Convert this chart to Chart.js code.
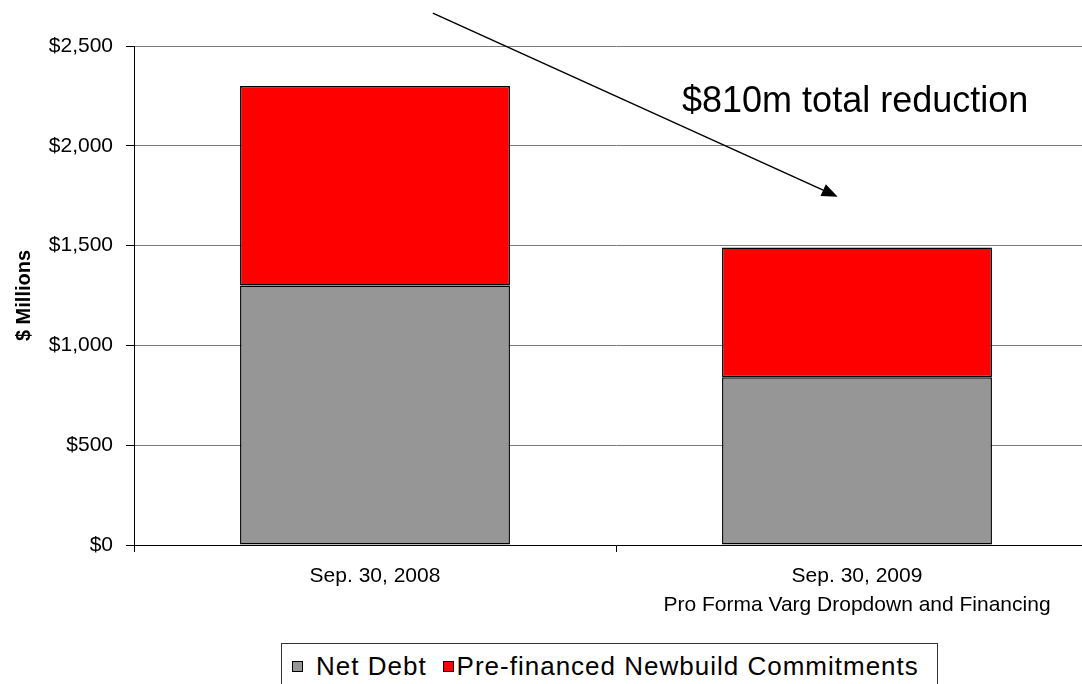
<!DOCTYPE html>
<html>
<head>
<meta charset="utf-8">
<script src="https://cdn.jsdelivr.net/npm/chart.js@4.4.1/dist/chart.umd.min.js"></script>
<style>
  body { margin: 0; overflow: hidden; background: #fff; font-family: "Liberation Sans", Arial, sans-serif; }
  #wrap { position: relative; width: 1110px; height: 684px; }
  #legend {
    position: absolute; left: 281px; top: 643px; width: 657px; height: 60px;
    box-sizing: border-box; border: 1px solid #333; background: #fff;
    display: flex; align-items: center; height: 60px; align-items: flex-start;
    padding-top: 7px; font-size: 26px; letter-spacing: 1px; line-height: 30px; color: #000;
  }
  #legend .row { display: flex; align-items: center; height: 30px; }
  #legend .sw { width: 11px; height: 11px; box-sizing: border-box; border: 1px solid #000; display: inline-block; }
</style>
</head>
<body>
<div id="wrap">
  <canvas id="chart"></canvas>
  <div id="legend"><div class="row">
    <span class="sw" style="background:#969696;margin-left:10px"></span><span style="margin-left:13px">Net Debt</span>
    <span class="sw" style="background:#ff0000;margin-left:16px"></span><span style="margin-left:3px">Pre-financed Newbuild Commitments</span>
  </div></div>
</div>
<script>
// data
const categories = [['Sep. 30, 2008'], ['Sep. 30, 2009', 'Pro Forma Varg Dropdown and Financing']];
const netDebt = [1300, 840];
const prefinanced = [1000, 650];
const yTicks = [0, 500, 1000, 1500, 2000, 2500];

// annotation, in data units (category index, $ millions)
const arrowFrom = [0.12, 2665];
const arrowTo = [0.96, 1745];
const noteText = '$810m total reduction';
const notePos = [0.637, 2170];

const FONT = "'Liberation Sans', Arial, sans-serif";

const arrowPlugin = {
  id: 'arrow',
  afterDraw(chart) {
    const ctx = chart.ctx, x = chart.scales.x, y = chart.scales.y;
    const x0 = x.getPixelForValue(arrowFrom[0]), y0 = y.getPixelForValue(arrowFrom[1]);
    const x1 = x.getPixelForValue(arrowTo[0]), y1 = y.getPixelForValue(arrowTo[1]);
    const ang = Math.atan2(y1 - y0, x1 - x0);
    const len = 16, hw = 6.5;
    ctx.save();
    ctx.strokeStyle = '#000';
    ctx.fillStyle = '#000';
    ctx.lineWidth = 1.5;
    ctx.beginPath();
    ctx.moveTo(x0, y0);
    ctx.lineTo(x1 - len * Math.cos(ang), y1 - len * Math.sin(ang));
    ctx.stroke();
    ctx.beginPath();
    ctx.moveTo(x1, y1);
    ctx.lineTo(x1 - len * Math.cos(ang) + hw * Math.sin(ang), y1 - len * Math.sin(ang) - hw * Math.cos(ang));
    ctx.lineTo(x1 - len * Math.cos(ang) - hw * Math.sin(ang), y1 - len * Math.sin(ang) + hw * Math.cos(ang));
    ctx.closePath();
    ctx.fill();
    ctx.font = '36px ' + FONT;
    ctx.textBaseline = 'alphabetic';
    ctx.textAlign = 'left';
    ctx.fillText(noteText, x.getPixelForValue(notePos[0]), y.getPixelForValue(notePos[1]));
    ctx.restore();
  }
};

new Chart(document.getElementById('chart'), {
  type: 'bar',
  data: {
    labels: categories,
    datasets: [
      { label: 'Net Debt', data: netDebt, backgroundColor: '#969696' },
      { label: 'Pre-financed Newbuild Commitments', data: prefinanced, backgroundColor: '#ff0000' }
    ]
  },
  options: {
    responsive: true,
    maintainAspectRatio: false,
    animation: false,
    layout: { padding: { top: 46, right: 12, left: 0, bottom: 0 } },
    datasets: {
      bar: { borderColor: '#000', borderWidth: 1.5, borderSkipped: false, categoryPercentage: 1, barPercentage: 0.56 }
    },
    plugins: { legend: { display: false }, tooltip: { enabled: false } },
    scales: {
      x: {
        stacked: true,
        grid: { drawOnChartArea: false, color: '#000', tickLength: 7 },
        border: { color: '#000', width: 1 },
        ticks: { color: '#000', padding: 10, font: { family: FONT, size: 21, lineHeight: 1.38 } },
        afterFit(s) { s.height = 139; }
      },
      y: {
        stacked: true,
        min: 0,
        max: 2500,
        afterBuildTicks(s) { s.ticks = yTicks.map(v => ({ value: v })); },
        grid: { color: '#7a7a7a', tickColor: '#000', tickLength: 8 },
        border: { color: '#000', width: 1 },
        ticks: {
          color: '#000', padding: 13, font: { family: FONT, size: 21 },
          callback: v => '$' + v.toLocaleString('en-US')
        },
        title: {
          display: true, text: '$ Millions', color: '#000',
          font: { family: FONT, size: 20, weight: 'bold' }, padding: { top: 12, bottom: 0 }
        },
        afterFit(s) { s.width = 134; }
      }
    }
  },
  plugins: [arrowPlugin]
});
</script>
</body>
</html>
